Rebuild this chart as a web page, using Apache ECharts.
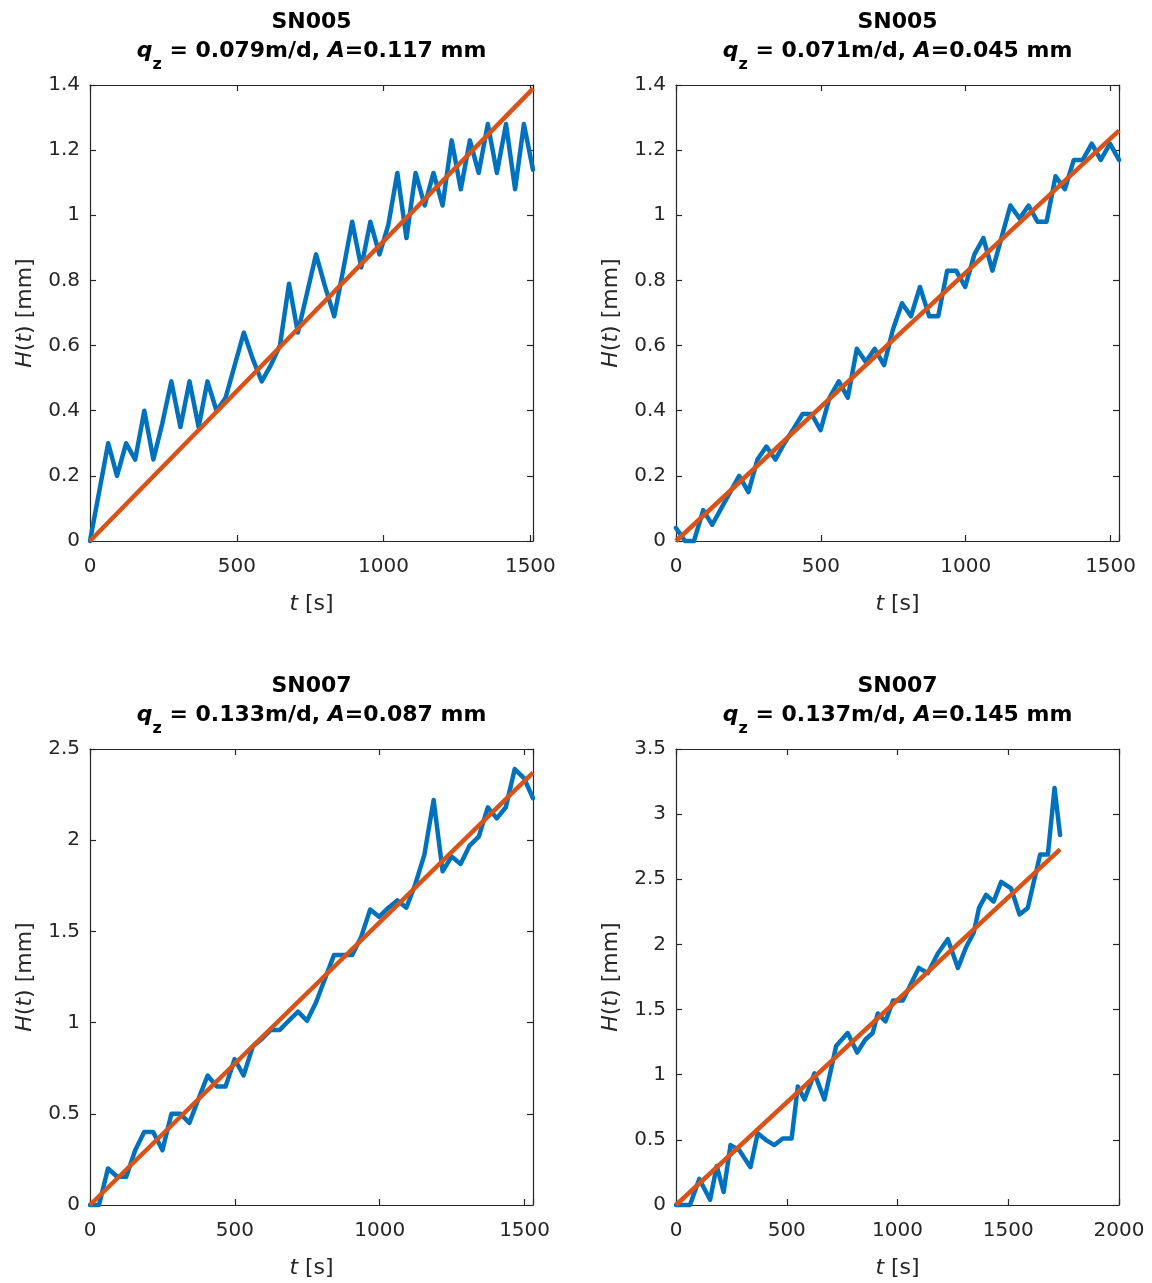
<!DOCTYPE html>
<html>
<head>
<meta charset="utf-8">
<script src="https://cdn.jsdelivr.net/npm/echarts@6/dist/echarts.min.js"></script>
<style>html,body{margin:0;padding:0;background:#fff}#c{width:1152px;height:1283px}</style>
</head>
<body>
<div id="c"></div>
<script>
// ---------------- data ----------------
const sampleNames = ['SN005', 'SN005', 'SN007', 'SN007'];
const qzValues = ['0.079', '0.071', '0.133', '0.137'];
const aValues = ['0.117', '0.045', '0.087', '0.145'];

// top-left
const tTL = [0,31,62,92,123,154,185,216,246,277,308,339,370,400,431,462,493,524,554,585,616,647,678,708,739,770,801,832,862,893,924,955,986,1016,1047,1078,1109,1140,1170,1201,1232,1263,1294,1324,1355,1386,1417,1448,1478,1509];
const hTL = [0,0.15,0.30,0.20,0.30,0.25,0.40,0.25,0.36,0.49,0.35,0.49,0.35,0.49,0.40,0.44,0.54,0.64,0.56,0.49,0.54,0.60,0.79,0.64,0.76,0.88,0.78,0.69,0.83,0.98,0.84,0.98,0.88,0.97,1.13,0.93,1.13,1.03,1.13,1.03,1.23,1.08,1.23,1.13,1.28,1.13,1.28,1.08,1.28,1.14];
const fitTTL = [0, 1509];
const fitHTL = [0, 1.389];

// top-right
const tTR = [0,31,62,94,125,156,187,218,250,281,312,343,374,406,437,468,499,530,562,593,624,655,686,718,749,780,811,842,874,905,936,967,998,1030,1061,1092,1123,1154,1186,1217,1248,1279,1310,1342,1373,1404,1435,1466,1498,1529];
const hTR = [0.04,0,0,0.095,0.05,0.10,0.15,0.20,0.15,0.25,0.29,0.25,0.30,0.345,0.39,0.39,0.34,0.44,0.49,0.44,0.59,0.55,0.59,0.54,0.65,0.73,0.69,0.78,0.69,0.69,0.83,0.83,0.78,0.88,0.93,0.83,0.93,1.03,0.99,1.03,0.98,0.98,1.12,1.08,1.17,1.17,1.22,1.17,1.22,1.17];
const fitTTR = [0, 1529];
const fitHTR = [0, 1.26];

// bottom-left
const tBL = [0,31,62,94,125,156,187,218,250,281,312,343,374,406,437,468,499,530,562,593,624,655,686,718,749,780,811,842,874,905,936,967,998,1030,1061,1092,1123,1154,1186,1217,1248,1279,1310,1342,1373,1404,1435,1466,1498,1529];
const hBL = [0,0,0.20,0.155,0.155,0.30,0.40,0.40,0.30,0.50,0.50,0.45,0.58,0.71,0.65,0.65,0.80,0.71,0.87,0.91,0.96,0.96,1.01,1.06,1.01,1.11,1.24,1.37,1.37,1.37,1.47,1.62,1.58,1.63,1.67,1.63,1.76,1.92,2.22,1.83,1.91,1.87,1.97,2.02,2.18,2.12,2.18,2.39,2.34,2.23];
const fitTBL = [0, 1529];
const fitHBL = [0, 2.37];

// bottom-right
const tBR = [0,63,105,154,184,215,246,286,336,369,405,444,482,522,550,580,625,670,723,775,818,855,888,911,946,980,1024,1096,1137,1182,1227,1273,1310,1344,1368,1400,1434,1468,1513,1551,1588,1644,1679,1709,1734];
const hBR = [0,0,0.20,0.04,0.30,0.10,0.46,0.42,0.29,0.55,0.50,0.46,0.51,0.51,0.91,0.81,1.01,0.81,1.22,1.32,1.17,1.27,1.32,1.47,1.41,1.57,1.57,1.82,1.78,1.93,2.04,1.82,1.98,2.09,2.28,2.38,2.33,2.48,2.43,2.23,2.28,2.69,2.69,3.20,2.84];
const fitTBR = [0, 1734];
const fitHBR = [0, 2.73];

// axis ranges
const xMax = [1509, 1529, 1529, 2000];
const xStep = [500, 500, 500, 500];
const yMax = [1.4, 1.4, 2.5, 3.5];
const yStep = [0.2, 0.2, 0.5, 0.5];

// ---------------- layout / style ----------------
const layout = [
  {left: 90, top: 85, width: 443, height: 456},
  {left: 676, top: 85, width: 443, height: 456},
  {left: 90, top: 749, width: 443, height: 456},
  {left: 676, top: 749, width: 443, height: 456}
];
const FONT = '"DejaVu Sans", sans-serif';
const AXC = '#262626';
const BLUE = '#0072BD';
const ORANGE = '#D95319';

const measured = [[tTL, hTL], [tTR, hTR], [tBL, hBL], [tBR, hBR]];
const fits = [[fitTTL, fitHTL], [fitTTR, fitHTR], [fitTBL, fitHBL], [fitTBR, fitHBR]];
const zip = (a, b) => a.map((v, i) => [v, b[i]]);

const grids = [], xAxes = [], yAxes = [], series = [], graphics = [];

layout.forEach((L, i) => {
  grids.push({left: L.left, top: L.top, width: L.width, height: L.height, containLabel: false, outerBoundsMode: 'none'});
  const axLine = {show: true, onZero: false, lineStyle: {color: AXC, width: 1.2}};
  const tick = {show: true, inside: true, length: 6, lineStyle: {color: AXC, width: 1.2}};
  const nameStyle = {color: AXC, fontSize: 22, fontFamily: FONT,
    rich: {i: {fontStyle: 'italic', fontSize: 22, fontFamily: FONT, color: AXC}}};
  const xs = xStep[i];
  xAxes.push({
    type: 'value', gridIndex: i, position: 'bottom', min: 0, max: xMax[i], interval: xs,
    axisLine: axLine, axisTick: tick, splitLine: {show: false},
    axisLabel: {show: true, margin: 16, color: AXC, fontSize: 20, fontFamily: FONT,
      formatter: v => (Math.abs(v / xs - Math.round(v / xs)) < 1e-6 ? String(v) : '')},
    name: '{i|t} [s]', nameLocation: 'middle', nameGap: 52, nameMoveOverlap: false,
    nameTextStyle: nameStyle
  });
  xAxes.push({
    type: 'value', gridIndex: i, position: 'top', min: 0, max: xMax[i], interval: xs,
    axisLine: axLine, axisTick: tick, axisLabel: {show: false}, splitLine: {show: false}
  });
  yAxes.push({
    type: 'value', gridIndex: i, position: 'left', min: 0, max: yMax[i], interval: yStep[i],
    axisLine: axLine, axisTick: tick, splitLine: {show: false},
    axisLabel: {show: true, margin: 10, color: AXC, fontSize: 20, fontFamily: FONT},
    name: '{i|H}({i|t}) [mm]', nameLocation: 'middle', nameRotate: 90, nameGap: 54, nameMoveOverlap: false,
    nameTextStyle: nameStyle
  });
  yAxes.push({
    type: 'value', gridIndex: i, position: 'right', min: 0, max: yMax[i], interval: yStep[i],
    axisLine: axLine, axisTick: tick, axisLabel: {show: false}, splitLine: {show: false}
  });
  series.push({
    type: 'line', xAxisIndex: 2 * i, yAxisIndex: 2 * i,
    data: zip(measured[i][0], measured[i][1]),
    showSymbol: false, symbol: 'none', clip: false, z: 2,
    lineStyle: {color: BLUE, width: 4.5, join: 'round', cap: 'round'}, itemStyle: {color: BLUE}
  });
  series.push({
    type: 'line', xAxisIndex: 2 * i, yAxisIndex: 2 * i,
    data: zip(fits[i][0], fits[i][1]),
    showSymbol: false, symbol: 'none', clip: false, z: 3,
    lineStyle: {color: ORANGE, width: 4.5}, itemStyle: {color: ORANGE}
  });
  const cx = L.left + L.width / 2;
  const off = L.top - 85;
  graphics.push({
    type: 'text', x: cx, y: 22 + off, z: 10,
    style: {text: sampleNames[i], fill: '#000', align: 'center', verticalAlign: 'middle',
      font: 'bold 22px ' + FONT}
  });
  graphics.push({
    type: 'text', x: cx, y: 40 + off, z: 10,
    style: {
      text: '{qi|q}{sub|z}{b| = ' + qzValues[i] + 'm/d, }{ai|A}{b|=' + aValues[i] + ' mm}',
      align: 'center', verticalAlign: 'top', fill: '#000',
      font: 'bold 22px ' + FONT,
      rich: {
        qi: {fontStyle: 'italic', fontWeight: 'bold', fontSize: 22, fontFamily: FONT, fill: '#000', lineHeight: 22, verticalAlign: 'top'},
        ai: {fontStyle: 'italic', fontWeight: 'bold', fontSize: 22, fontFamily: FONT, fill: '#000', lineHeight: 22, verticalAlign: 'top'},
        b: {fontWeight: 'bold', fontSize: 22, fontFamily: FONT, fill: '#000', lineHeight: 22, verticalAlign: 'top'},
        sub: {fontWeight: 'bold', fontSize: 16, fontFamily: FONT, fill: '#000', lineHeight: 33, verticalAlign: 'bottom'}
      }
    }
  });
});

const chart = echarts.init(document.getElementById('c'), null, {renderer: 'canvas'});
chart.setOption({
  animation: false,
  backgroundColor: '#fff',
  grid: grids,
  xAxis: xAxes,
  yAxis: yAxes,
  series: series,
  graphic: graphics
});
</script>
</body>
</html>
